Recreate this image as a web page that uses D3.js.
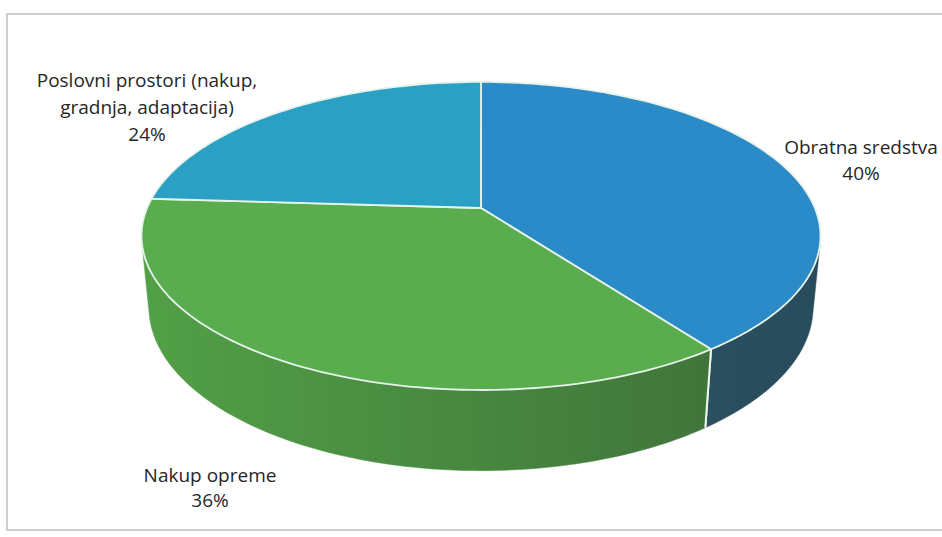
<!DOCTYPE html>
<html>
<head>
<meta charset="utf-8">
<script src="https://cdn.jsdelivr.net/npm/d3@7"></script>
<style>
  html, body { margin: 0; padding: 0; background: #fff; }
  svg { display: block; }
</style>
</head>
<body>
<svg id="chart" width="942" height="537"></svg>
<script>
// ---- data ----
const categories = ["Obratna sredstva", "Nakup opreme", "Poslovni prostori (nakup, gradnja, adaptacija)"];
const values = [40, 36, 24];
const percentLabels = ["40%", "36%", "24%"];
const topColors = ["#2b8ac8", "#5aad4e", "#2aa0c4"];
const sideColorsA = ["#2f5f74", "#52a047", "#2a7a92"];
const sideColorsB = ["#284c5c", "#3d6d38", "#23657a"];

const svg = d3.select("#chart");

// frame
svg.append("rect").attr("x", 7).attr("y", 14).attr("width", 945).attr("height", 516)
  .attr("fill", "none").attr("stroke", "#cfcfcf").attr("stroke-width", 2);

// ---- perspective projection of a tilted disc ----
const cx = 481, cy = 208;
const elev = 26.5 * Math.PI / 180;
const Dist = 4.93, focal = 1646;
const depth = 0.24;
function proj(theta, y) {
  const X = Math.sin(theta), Z = -Math.cos(theta);
  const d = Z * Math.cos(elev) + y * Math.sin(elev);
  const s = focal / (Dist - d);
  return [cx + X * s, cy + (Z * Math.sin(elev) - y * Math.cos(elev)) * s];
}
function projC(y) {
  const d = y * Math.sin(elev);
  const s = focal / (Dist - d);
  return [cx, cy - y * Math.cos(elev) * s];
}

const pie = d3.pie().sort(null).value(d => d)(values);
const visLo = Math.acos(-1 / (Dist * Math.cos(elev)));
const visHi = 2 * Math.PI - visLo;

const defs = svg.append("defs");
const steps = 120;
function arcPts(a0, a1, y) {
  const n = Math.max(2, Math.ceil(steps * (a1 - a0) / Math.PI));
  return d3.range(n + 1).map(i => proj(a0 + (a1 - a0) * i / n, y));
}

// walls
const wallG = svg.append("g");
pie.forEach((p, i) => {
  const a0 = Math.max(p.startAngle, visLo), a1 = Math.min(p.endAngle, visHi);
  if (a1 <= a0) return;
  const top = arcPts(a0, a1, 0);
  const bot = arcPts(a0, a1, -depth).reverse();
  const gid = "wg" + i;
  const g = defs.append("linearGradient").attr("id", gid)
    .attr("gradientUnits", "userSpaceOnUse")
    .attr("x1", 140).attr("x2", 820).attr("y1", 0).attr("y2", 0);
  g.append("stop").attr("offset", 0).attr("stop-color", sideColorsA[i]);
  g.append("stop").attr("offset", 1).attr("stop-color", sideColorsB[i]);
  wallG.append("path")
    .attr("d", d3.line()(top.concat(bot)) + "Z")
    .attr("fill", `url(#${gid})`)
    .attr("stroke", `url(#${gid})`).attr("stroke-width", 0.5);
  [p.startAngle, p.endAngle].forEach(a => {
    if (a > visLo && a < visHi) {
      wallG.append("line")
        .attr("x1", proj(a, 0)[0]).attr("y1", proj(a, 0)[1])
        .attr("x2", proj(a, -depth)[0]).attr("y2", proj(a, -depth)[1])
        .attr("stroke", "#eef5ea").attr("stroke-width", 2);
    }
  });
});

// top faces
const topG = svg.append("g");
pie.forEach((p, i) => {
  const pts = [projC(0)].concat(arcPts(p.startAngle, p.endAngle, 0));
  topG.append("path")
    .attr("d", d3.line()(pts) + "Z")
    .attr("fill", topColors[i])
    .attr("stroke", "#e6f3ea").attr("stroke-width", 1.8)
    .attr("stroke-linejoin", "round");
});

// labels
const font = "'Open Sans', 'Liberation Sans', sans-serif";
const labelSpecs = [
  { lines: ["Obratna sredstva", percentLabels[0]], x: 861, y: 154, dy: 26 },
  { lines: ["Nakup opreme", percentLabels[1]], x: 210, y: 482, dy: 25 },
  { lines: ["Poslovni prostori (nakup,", "gradnja, adaptacija)", percentLabels[2]], x: 147, y: 87, dy: 27 }
];
labelSpecs.forEach(ls => {
  const t = svg.append("text").attr("text-anchor", "middle")
    .attr("font-family", font).attr("font-size", 19).attr("fill", "#262626");
  ls.lines.forEach((ln, j) => {
    t.append("tspan").attr("x", ls.x).attr("y", ls.y + j * ls.dy).text(ln);
  });
});
</script>
</body>
</html>
